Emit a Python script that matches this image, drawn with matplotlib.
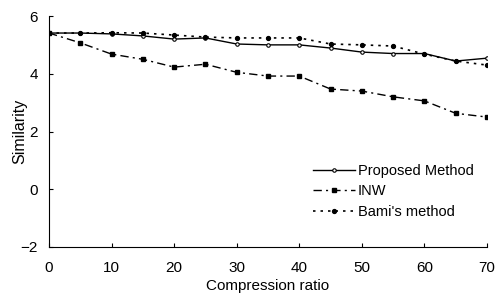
import matplotlib
matplotlib.use("Agg")
import matplotlib.pyplot as plt

plt.rcParams['font.family'] = ['Liberation Sans', 'DejaVu Sans']

# Compression ratio values
ratio = [0, 5, 10, 15, 20, 25, 30, 35, 40, 45, 50, 55, 60, 65, 70]

# Similarity
proposed = [5.41, 5.41, 5.38, 5.31, 5.20, 5.24, 5.03, 5.00, 5.00, 4.89, 4.75, 4.70, 4.70, 4.44, 4.54]
inw = [5.41, 5.07, 4.68, 4.50, 4.23, 4.33, 4.05, 3.92, 3.92, 3.47, 3.40, 3.20, 3.06, 2.63, 2.50]
bami = [5.41, 5.41, 5.42, 5.41, 5.34, 5.27, 5.24, 5.24, 5.24, 5.03, 5.00, 4.96, 4.68, 4.44, 4.30]

fig = plt.figure(figsize=(4.97, 2.93), dpi=100)
ax = fig.add_axes([49/497, 46/293, 438/497, 231/293])

ax.plot(ratio, proposed, '-', color='black', lw=1.0, marker='o', ms=2.5,
        mfc='white', mew=0.8, label='Proposed Method')
ax.plot(ratio, inw, linestyle=(0, (6, 3, 1.5, 3)), color='black', lw=1.0,
        marker='s', ms=2.5, label='INW')
ax.plot(ratio, bami, linestyle=(0, (1.5, 3)), color='black', lw=1.2,
        marker='o', ms=2.8, label="Bami's method")

ax.set_xlim(0, 70)
ax.set_ylim(-2, 6)
ax.set_xticks(range(0, 71, 10))
ax.set_yticks([-2, 0, 2, 4, 6])
ax.spines['top'].set_visible(False)
ax.spines['right'].set_visible(False)
ax.tick_params(direction='in', length=3, labelsize=11)
ax.tick_params(axis='x', pad=10)
ax.tick_params(axis='y', pad=8)
ax.set_xlabel('Compression ratio', fontsize=11)
ax.set_ylabel('Similarity', fontsize=11.5)
ax.xaxis.set_label_coords(0.498, -0.14)
ax.yaxis.set_label_coords(-0.05, 0.5)

ax.legend(loc='upper left', bbox_to_anchor=(258/438, 1 - 142/231), frameon=False,
          fontsize=10.5, handlelength=2.9, handletextpad=0.2, labelspacing=0.45,
          borderaxespad=0)

fig.savefig('out.png', dpi=100)
